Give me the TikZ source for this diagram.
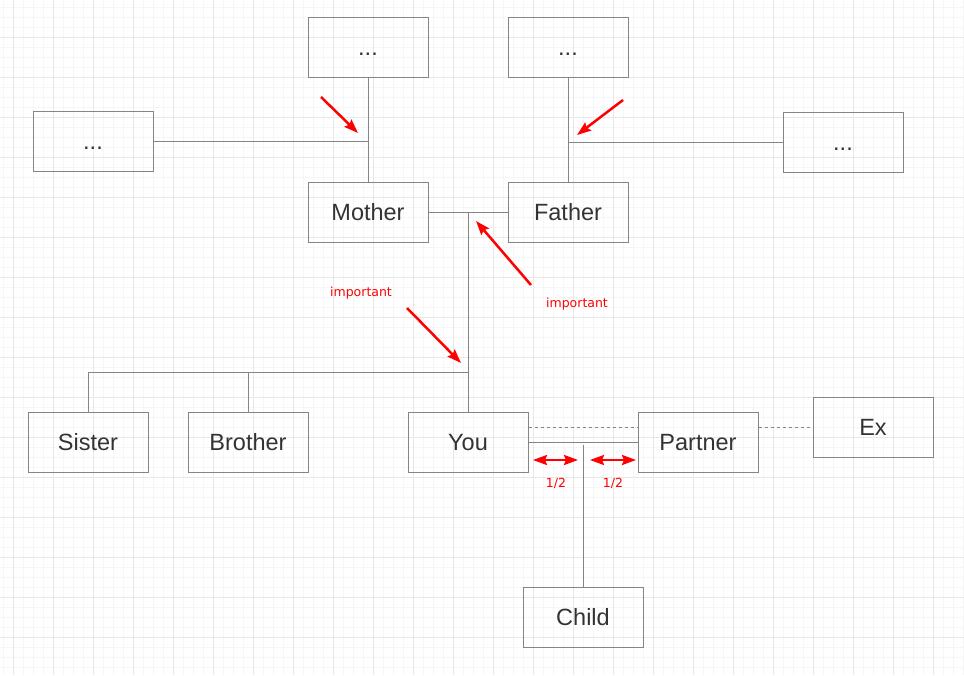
\documentclass[tikz,border=0pt]{standalone}
\usepackage{fontspec}
\setmainfont{Liberation Sans}
\newfontfamily\notefont{DejaVu Sans}
\usetikzlibrary{arrows.meta}
\definecolor{gridminor}{HTML}{F6F6F6}
\definecolor{gridmajor}{HTML}{E8E8E8}
\definecolor{edgegray}{HTML}{858585}
\definecolor{textgray}{HTML}{333333}

\begin{document}
\begin{tikzpicture}[x=1pt, y=-1pt,
  person/.style={draw=edgegray, line width=1pt, minimum width=120pt,
    minimum height=60pt, inner sep=0pt, text=textgray,
    text height=16.5pt, text depth=0pt,
    font=\fontsize{23.5}{27}\selectfont},
  link/.style={draw=edgegray, line width=1pt},
  loose/.style={link, dash pattern=on 3pt off 3pt},
  hint/.style={draw=red, line width=2.5pt,
    -{Stealth[length=14pt, width=10pt, inset=2pt]}},
  share/.style={draw=red, line width=2.5pt,
    {Stealth[length=14pt, width=10pt, inset=2pt]}-{Stealth[length=14pt, width=10pt, inset=2pt]}},
  note/.style={text=red, font=\notefont\fontsize{12.5}{15}\selectfont}]
\useasboundingbox (0,0) rectangle (964,675);

% grid
\foreach \x in {3,13,...,963} \draw[gridminor, line width=1pt] (\x,0) -- (\x,675);
\foreach \y in {7,17,...,667} \draw[gridminor, line width=1pt] (0,\y) -- (964,\y);
\foreach \x in {13,53,...,933} \draw[gridmajor, line width=1pt] (\x,0) -- (\x,675);
\foreach \y in {37,77,...,637} \draw[gridmajor, line width=1pt] (0,\y) -- (964,\y);

\node[person] (momup) at (368,47) {...};
\node[person] (dadup) at (568,47) {...};
\node[person] (momside) at (93,141) {...};
\node[person] (dadside) at (843,142) {...};
\node[person] (mother) at (368,212) {Mother};
\node[person] (father) at (568,212) {Father};
\node[person] (sister) at (88,442) {Sister};
\node[person] (brother) at (248,442) {Brother};
\node[person] (you) at (468,442) {You};
\node[person] (partner) at (698,442) {Partner};
\node[person] (ex) at (873,427) {Ex};
\node[person] (child) at (583,617) {Child};

\coordinate (parents) at (468,212);
\coordinate (kids) at (468,372);
\coordinate (union) at (583,445);

\draw[link] (momup) -- (mother);
\draw[link] (momside) -- (momside -| mother);
\draw[link] (dadup) -- (father);
\draw[link] (dadside) -- (dadside -| father);
\draw[link] (mother) -- (father);
\draw[link] (parents) -- (you);
\draw[link] (sister.north) |- (kids);
\draw[link] (brother) -- (brother |- kids);
\draw[link] (you) -- (partner);
\draw[loose] (you.east |- ex) -- (partner.west |- ex);
\draw[loose] (partner.east |- ex) -- (ex);
\draw[link] (child) -- (union);

% red remarks
\coordinate (a1) at (321,97);   \coordinate (b1) at (358,133);
\coordinate (a2) at (623,100);  \coordinate (b2) at (577,135);
\coordinate (a3) at (531,285);  \coordinate (b3) at (476,221);
\coordinate (a4) at (407,308);  \coordinate (b4) at (461,363);
\coordinate (a5) at (533,460);  \coordinate (b5) at (578,460);
\coordinate (a6) at (590,460);  \coordinate (b6) at (636,460);
\foreach \n in {1,...,4} \draw[hint] (a\n) -- (b\n);
\foreach \n in {5,6} \draw[share] (a\n) -- (b\n);

\node[note] (imp1) at (361,293) {important};
\node[note] (imp2) at (577,304) {important};
\node[note] (half1) at (556,483) {1/2};
\node[note] (half2) at (613,483) {1/2};
\end{tikzpicture}
\end{document}
